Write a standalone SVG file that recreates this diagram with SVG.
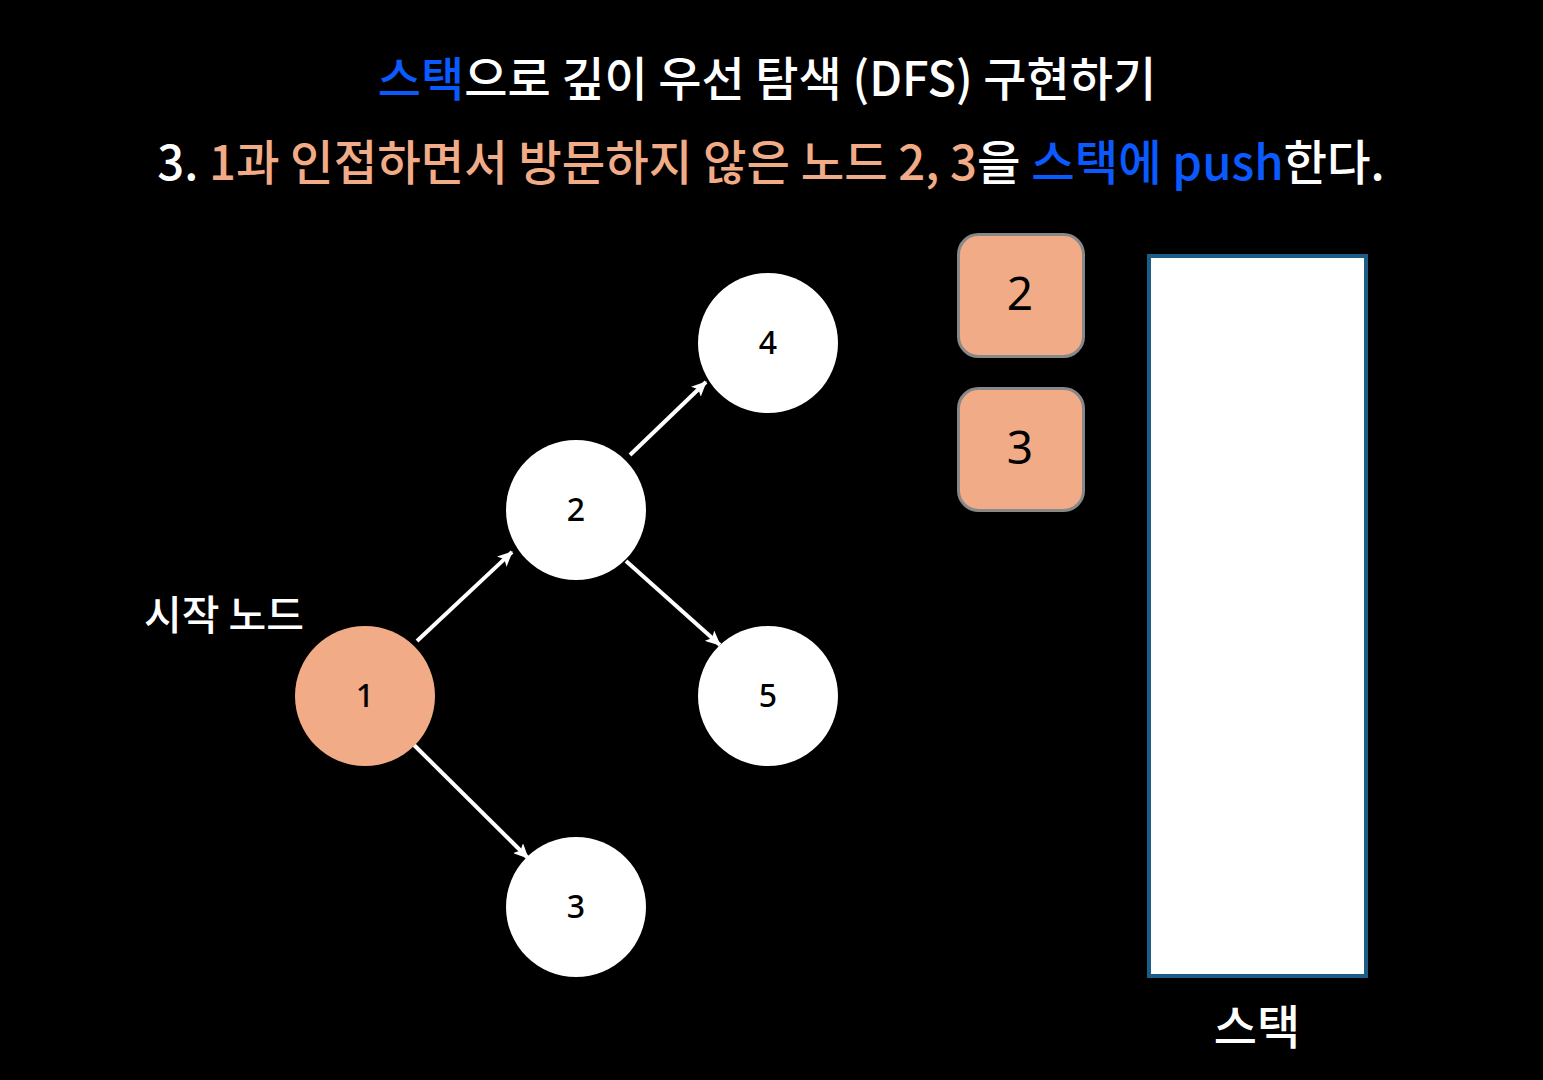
<svg xmlns="http://www.w3.org/2000/svg" width="1543" height="1080" viewBox="0 0 1543 1080">
<defs>
<marker id="ah" markerWidth="15" markerHeight="14" refX="14" refY="7" orient="auto" markerUnits="userSpaceOnUse" viewBox="0 0 15 14">
<path d="M0,0 L15,7 L0,14 L3.5,7 Z" fill="#fff"/>
</marker>
<style>
text{font-family:"Noto Sans CJK KR","Noto Sans",sans-serif;font-weight:500}
.w{fill:#fff}.o{fill:#F1AB86}.b{fill:#0A5AFF}
.node{fill:#fff}
.nl{font-size:32px;fill:#000;text-anchor:middle;dominant-baseline:central;font-family:"Noto Sans",sans-serif;font-weight:500}
.edge{stroke:#fff;stroke-width:4;fill:none;marker-end:url(#ah)}
.sb{fill:#F1AB86;stroke:#888;stroke-width:3}
.sl{font-size:46px;fill:#000;text-anchor:middle;dominant-baseline:central;font-family:"Noto Sans",sans-serif;font-weight:400}
</style>
</defs>
<rect width="1543" height="1080" fill="#000"/>
<text x="767" y="96" font-size="47" text-anchor="middle" class="w"><tspan class="b">스택</tspan>으로 깊이 우선 탐색 (DFS) 구현하기</text>
<text x="771" y="180" font-size="47.3" text-anchor="middle" class="w">3. <tspan class="o">1과 인접하면서 방문하지 않은 노드 2, 3</tspan>을 <tspan class="b">스택에 push</tspan>한다.</text>
<g id="connectors">
<line class="edge" x1="417" y1="641" x2="512" y2="552"/>
<line class="edge" x1="630" y1="455" x2="706" y2="382"/>
<line class="edge" x1="626" y1="561" x2="720" y2="645"/>
<line class="edge" x1="414" y1="745" x2="528" y2="858"/>
</g>
<g id="node1"><circle cx="365" cy="696" r="70" fill="#F1AB86"/><text class="nl" x="365" y="694">1</text></g>
<g id="node2"><circle class="node" cx="576" cy="510" r="70"/><text class="nl" x="576" y="508">2</text></g>
<g id="node4"><circle class="node" cx="768" cy="343" r="70"/><text class="nl" x="768" y="341">4</text></g>
<g id="node5"><circle class="node" cx="768" cy="696" r="70"/><text class="nl" x="768" y="694">5</text></g>
<g id="node3"><circle class="node" cx="576" cy="907" r="70"/><text class="nl" x="576" y="905">3</text></g>
<g id="start-label"><text x="224" y="630" font-size="41" text-anchor="middle" class="w">시작 노드</text></g>
<g id="push2"><rect class="sb" x="958.5" y="234.5" width="125" height="122" rx="20"/><text class="sl" x="1020" y="292">2</text></g>
<g id="push3"><rect class="sb" x="958.5" y="388.5" width="125" height="122" rx="20"/><text class="sl" x="1020" y="446">3</text></g>
<g id="stack"><rect x="1149" y="256" width="217" height="720" fill="#fff" stroke="#1A5E86" stroke-width="4"/><text x="1257" y="1044" font-size="47" text-anchor="middle" class="w">스택</text></g>
</svg>
